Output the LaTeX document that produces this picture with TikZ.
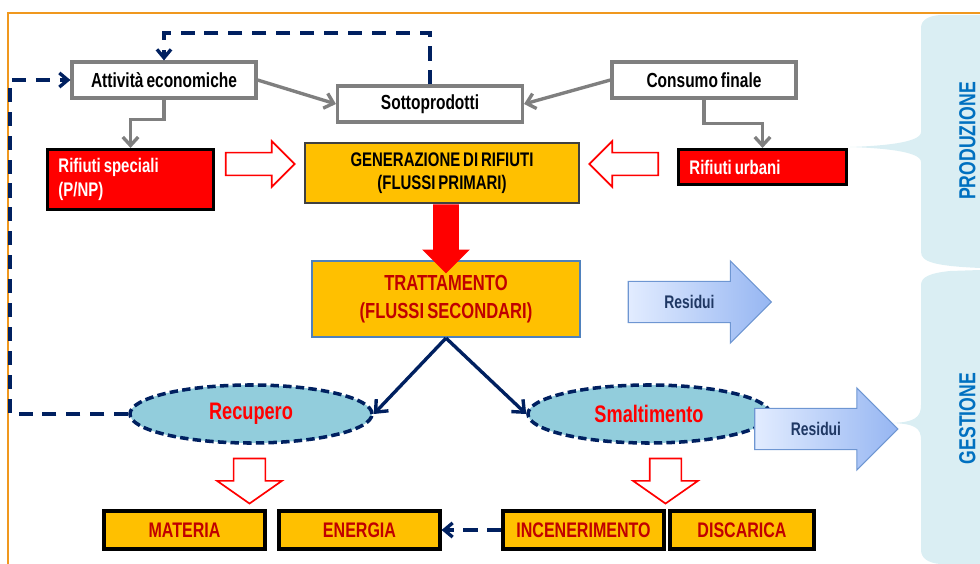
\documentclass[tikz,border=0pt]{standalone}
\usepackage{fontspec}
\setmainfont{Liberation Sans}[FakeStretch=0.76,WordSpace=0.7]
\usetikzlibrary{shapes.geometric,shapes.arrows,arrows.meta}
\definecolor{giallo}{RGB}{255,192,0}
\definecolor{rossoT}{RGB}{192,0,0}
\definecolor{blu}{RGB}{0,32,96}
\definecolor{blu2}{RGB}{31,56,100}
\definecolor{grigio}{RGB}{127,127,127}
\definecolor{grigioS}{RGB}{64,64,64}
\definecolor{bluT}{RGB}{79,129,189}
\definecolor{cielo}{RGB}{146,205,220}
\definecolor{pan}{RGB}{218,238,243}
\definecolor{azzurro}{RGB}{0,112,192}
\definecolor{arancio}{RGB}{240,152,30}
\definecolor{resA}{RGB}{226,236,255}
\definecolor{resB}{RGB}{150,182,242}
\definecolor{bordoR}{RGB}{110,150,210}

\begin{document}
\begin{tikzpicture}[x=0.025cm,y=-0.025cm,
	gbx/.style={draw=grigio,line width=2.2pt,fill=white,minimum width=4.6cm,
	minimum height=0.9cm,font=\fontsize{14.5}{16}\selectfont\bfseries},
	rbx/.style={draw=black,line width=2.2pt,fill=red,text=white,align=left,
	inner xsep=0.275cm,font=\fontsize{14}{17}\selectfont\bfseries},
	obx/.style={draw=black,line width=2.2pt,fill=giallo,text=rossoT,
	minimum width=4.025cm,minimum height=0.95cm,font=\fontsize{15}{17}\selectfont\bfseries},
	elp/.style={ellipse,draw=blu,line width=2.5pt,dash pattern=on 6pt off 3pt,
	fill=cielo,text=red,minimum width=6.05cm,minimum height=1.45cm,
	font=\fontsize{17}{19}\selectfont\bfseries},
	hol/.style={single arrow,draw=red,line width=1.2pt,fill=white,
	minimum height=1.725cm,single arrow head extend=0.2875cm,inner xsep=0pt,inner ysep=0.2625cm},
	res/.style={single arrow,draw=bordoR,line width=0.8pt,left color=resA,right color=resB,
	text=blu2,minimum height=3.575cm,single arrow head extend=0.51cm,text height=9pt,
	text depth=0pt,inner ysep=9.75pt,font=\fontsize{13}{15}\selectfont\bfseries},
	gar/.style={draw=grigio,line width=2.4pt,-{Straight Barb[length=6pt,width=11pt]}},
	dsh/.style={draw=blu,line width=2.4pt,dash pattern=on 10pt off 7pt,
	-{Straight Barb[length=6pt,width=10pt]}},
	nar/.style={draw=blu,line width=2.4pt,-{Straight Barb[length=7pt,width=12pt]}}]
\useasboundingbox (0,0) rectangle (980,564);
\fill[pan] (980,15) -- (940,15) .. controls (928,16) and (921,20) .. (921,28) -- (921,132)
	.. controls (921,143) and (880,146) .. (850,147) .. controls (880,148) and (921,151) .. (921,162)
	-- (921,252) .. controls (921,262) and (935,266) .. (980,268) -- cycle;
\fill[pan] (980,270) -- (950,271) .. controls (930,273) and (921,277) .. (921,285) -- (921,405)
	.. controls (921,417) and (915,422) .. (893,423) .. controls (915,424) and (921,428) .. (921,440)
	-- (921,550) .. controls (921,558) and (928,563) .. (940,564) -- (980,564) -- cycle;
\draw[arancio,line width=1.5pt] (8,564) -- (8,13) -- (980,13);
\node[rotate=90,text=azzurro,font=\fontsize{16.5}{18}\selectfont\bfseries] (20) at (967.5,141) {PRODUZIONE};
\node[rotate=90,text=azzurro,font=\fontsize{16.5}{18}\selectfont\bfseries] (21) at (967.5,418.5) {GESTIONE};
\node[gbx] (0) at (164,80) {Attività economiche};
\node[gbx,minimum width=4.625cm] (1) at (430,104) {Sottoprodotti};
\node[gbx] (2) at (704,80) {Consumo finale};
\node[rbx,minimum height=1.5cm] (3) at (130.5,179.5)
	{\makebox[3.6cm][l]{Rifiuti speciali}\\\makebox[3.6cm][l]{(P/NP)}};
\node[rbx,minimum height=0.875cm] (4) at (762.5,167) {\makebox[3.65cm][l]{Rifiuti urbani}};
\node[draw=grigioS,line width=1pt,fill=giallo,align=center,minimum width=6.85cm,
	minimum height=1.5cm,font=\fontsize{14}{16}\selectfont\bfseries] (5) at (442,173)
	{GENERAZIONE DI RIFIUTI\\(FLUSSI PRIMARI)};
\node[draw=bluT,line width=1.5pt,fill=giallo,text=rossoT,align=center,minimum width=6.7cm,
	minimum height=1.9cm,font=\fontsize{15.5}{20}\selectfont\bfseries] (6) at (446,299)
	{TRATTAMENTO\\(FLUSSI SECONDARI)};
\node[single arrow,fill=red,shape border rotate=270,minimum height=1.725cm,inner sep=0.3125cm,
	single arrow head extend=0.275cm] (19) at (446,232.5) {};
\node[hol] (15) at (254.5,164) {};
\node[hol,shape border rotate=180] (16) at (629.5,164) {};
\node[elp] (7) at (251,414) {Recupero};
\node[elp] (8) at (649,414) {Smaltimento};
\node[res] (13) at (689.5,302) {Residui};
\node[res] (14) at (816,429) {Residui};
\node[hol,shape border rotate=270,minimum height=1.125cm,single arrow head extend=0.4125cm,
	inner sep=0.375cm,single arrow tip angle=110] (17) at (249.5,475.5) {};
\node[hol,shape border rotate=270,minimum height=1.125cm,single arrow head extend=0.4125cm,
	inner sep=0.375cm,single arrow tip angle=110] (18) at (665.5,475.5) {};
\node[obx] (9) at (184.5,530) {MATERIA};
\node[obx] (10) at (359.5,530) {ENERGIA};
\node[obx] (11) at (583.5,530) {INCENERIMENTO};
\node[obx,minimum width=3.6cm] (12) at (742,530) {DISCARICA};
\coordinate (c1) at (10,80);
\coordinate (c2) at (0,33);
\draw[gar] (0.east) -- (1.west);
\draw[gar] (2.west) -- (1.east);
\draw[gar] (0.south) -- ++(0,20) -| (3.north);
\draw[gar] (2.south) -- ++(0,24) -| (4.north);
\draw[nar] (6.south) -- (7.east);
\draw[nar] (6.south) -- (8.west);
\draw[dsh] (7.west) -| (c1) -- (0.west);
\draw[dsh] (1.north) |- (c2 -| 0.north) -- (0.north);
\draw[dsh] (11.west) -- (10.east);
\end{tikzpicture}
\end{document}
